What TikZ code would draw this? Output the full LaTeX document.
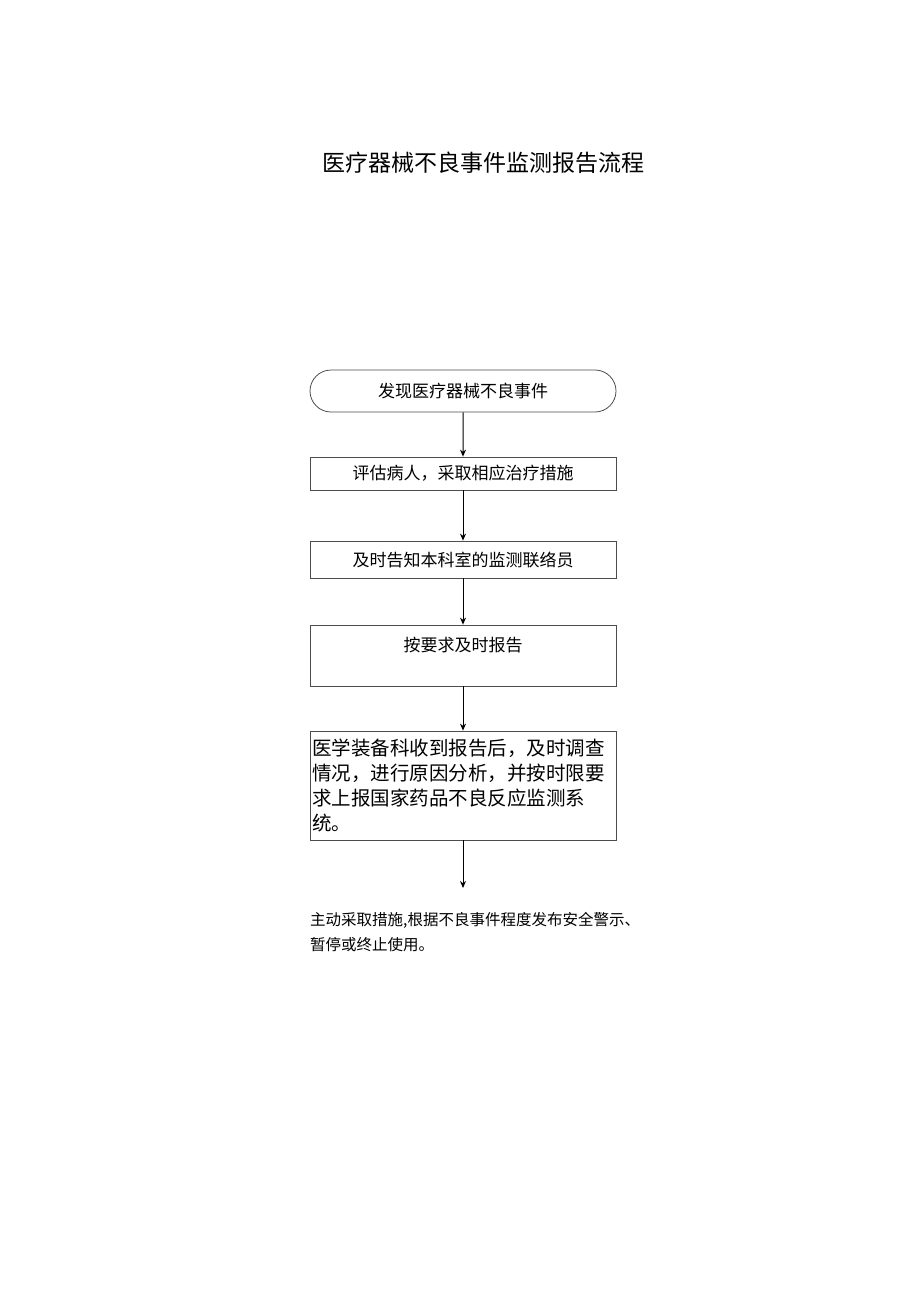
\documentclass[tikz,border=0pt]{standalone}
\usepackage{fontspec}
\setmainfont{Noto Sans CJK SC}
\usetikzlibrary{shapes.misc,arrows.meta}
\begin{document}
\begin{tikzpicture}[x=1pt,y=-1pt,
  box/.style={draw=black!70,line width=0.8pt,minimum width=306pt,inner sep=0pt,font=\fontsize{17}{24}\selectfont},
  arr/.style={-{Stealth[length=7pt,width=6pt]},line width=1pt}]
\useasboundingbox (0,0) rectangle (920,1301);
\node (title) at (483,163) {\fontsize{23}{26}\selectfont 医疗器械不良事件监测报告流程};
\node[box,rounded rectangle,minimum height=42pt] (n1) at (463,391) {发现医疗器械不良事件};
\node[box,minimum height=33pt] (n2) at (463,473.5) {评估病人，采取相应治疗措施};
\node[box,minimum height=37pt] (n3) at (463,559.5) {及时告知本科室的监测联络员};
\node[box,minimum height=61pt] (n4) at (463,655.5) {};
\node at (463,645) {\fontsize{17}{24}\selectfont 按要求及时报告};
\node[box,minimum height=109pt,align=left,text width=302pt,font=\fontsize{19.5}{25}\selectfont] (n5) at (463,785.5) {医学装备科收到报告后，及时调查\\情况，进行原因分析，并按时限要\\求上报国家药品不良反应监测系\\统。};
\coordinate (e) at (463,888);
\node[anchor=north west,align=left,inner sep=0pt,font=\fontsize{15.5}{25}\selectfont] (t) at (310,912) {主动采取措施,根据不良事件程度发布安全警示、\\暂停或终止使用。};
\draw[arr] (n1) -- (n2);
\draw[arr] (n2) -- (n3);
\draw[arr] (n3) -- (n4);
\draw[arr] (n4) -- (n5);
\draw[arr] (n5) -- (e);
\end{tikzpicture}
\end{document}
